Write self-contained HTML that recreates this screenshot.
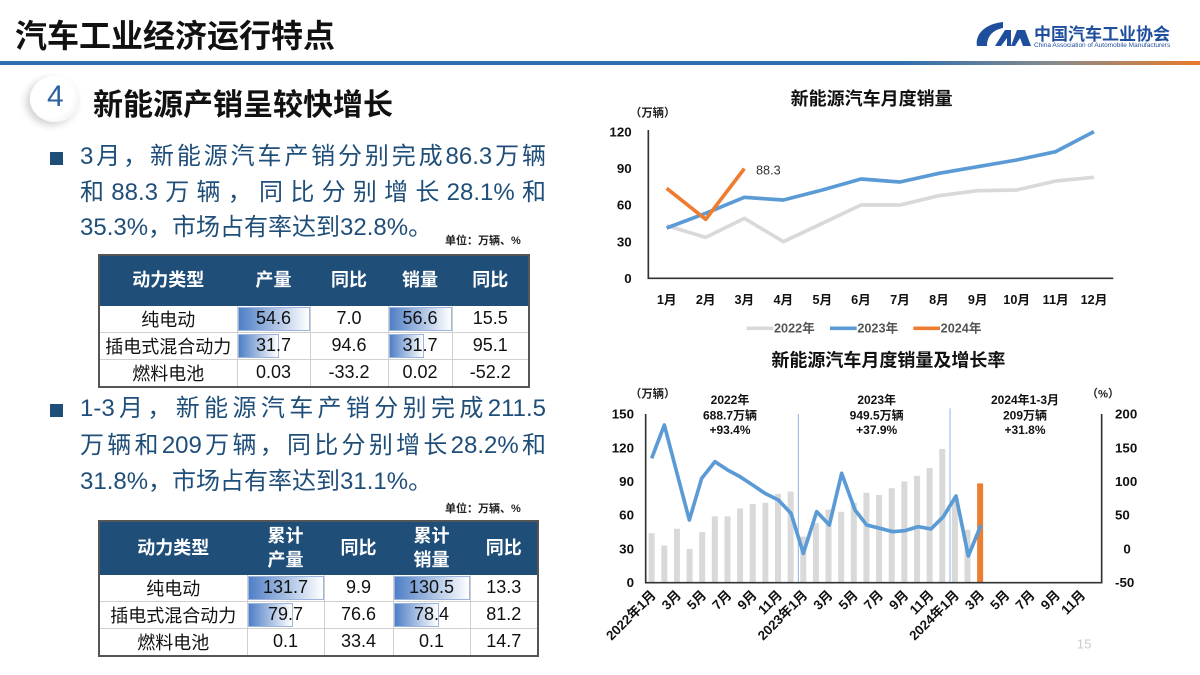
<!DOCTYPE html>
<html><head><meta charset="utf-8">
<style>
*{margin:0;padding:0;box-sizing:border-box}
body{width:1200px;height:675px;background:#fff;position:relative;overflow:hidden;font-family:"Liberation Sans","Noto Sans CJK SC",sans-serif}
.abs{position:absolute;white-space:nowrap}
.t{color:#1f4e79;font-size:24px;line-height:36px;width:466px;text-align:justify;text-align-last:justify}
.sq{position:absolute;width:13px;height:13px;background:#1f4e79}
table{position:absolute;border-collapse:collapse;font-size:18px;color:#111}
td,th{border:1px solid #d0d0d0;text-align:center;padding:0;position:relative}
th{background:#1f4e79;color:#fff;font-weight:bold;font-size:18px;border-color:#1f4e79;line-height:24px}
table{border:2px solid #555}
.bar{position:absolute;left:0;top:1px;bottom:1px;background:linear-gradient(90deg,#4f7fc6,#fff);border:1px solid #9db5dc}
td span{position:relative}
.unit{font-size:11px;font-weight:bold;color:#222}
</style></head><body>
<div class="abs" style="left:15px;top:11px;font-size:32px;font-weight:bold;color:#111">汽车工业经济运行特点</div>
<div class="abs" style="left:0;top:61px;width:1200px;height:4px;background:linear-gradient(90deg,#2e6fb0 0%,#2e6fb0 75%,#8a8a8a 88%,#e87a2a 100%)"></div>
<svg class="abs" style="left:973px;top:20px" width="66" height="32" viewBox="0 0 66 32"><path d="M30 2 C10 4 2 16 4 26 L14 26 C14 16 20 10 30 8 Z" fill="#1f4e9c"/><path d="M22 26 L32 10 L38 10 L38 26 L44 10 L52 10 L58 26 L50 26 L47 18 L42 26 L34 26 L34 18 L28 26Z" fill="#1f4e9c"/></svg>
<div class="abs" style="left:1034px;top:20px;font-size:17px;font-weight:bold;color:#1f4e9c">中国汽车工业协会</div>
<div class="abs" style="left:1034px;top:42px;font-size:6.5px;color:#1f4e9c">China Association of Automobile Manufacturers</div>

<div class="abs" style="left:30px;top:76px;width:50px;height:46px;border-radius:50%;background:radial-gradient(circle at 40% 40%,#fff 55%,#e4e7ee);box-shadow:-4px 3px 8px rgba(0,0,0,.18);"></div>
<div class="abs" style="left:47px;top:80px;font-size:30px;color:#2e5fa0">4</div>
<div class="abs" style="left:93px;top:80px;font-size:30px;font-weight:bold;color:#111">新能源产销呈较快增长</div>

<div class="sq" style="left:50px;top:152px"></div>
<div class="abs t" style="left:80px;top:139px">3月，新能源汽车产销分别完成86.3万辆</div>
<div class="abs t" style="left:80px;top:175px">和88.3万辆，同比分别增长28.1%和</div>
<div class="abs" style="left:80px;top:210px;color:#1f4e79;font-size:24px;line-height:36px">35.3%，市场占有率达到32.8%。</div>
<div class="abs unit" style="left:445px;top:232px">单位：万辆、%</div>

<table style="left:98px;top:254px;width:432px">
<tr style="height:50px"><th style="width:138px">动力类型</th><th style="width:73px">产量</th><th style="width:78px">同比</th><th style="width:64px">销量</th><th>同比</th></tr>
<tr style="height:25px"><td>纯电动</td><td><div class="bar" style="width:100%"></div><span>54.6</span></td><td>7.0</td><td><div class="bar" style="width:100%"></div><span>56.6</span></td><td>15.5</td></tr>
<tr style="height:25px"><td>插电式混合动力</td><td><div class="bar" style="width:58%"></div><span>31.7</span></td><td>94.6</td><td><div class="bar" style="width:56%"></div><span>31.7</span></td><td>95.1</td></tr>
<tr style="height:25px"><td>燃料电池</td><td>0.03</td><td>-33.2</td><td>0.02</td><td>-52.2</td></tr>
</table>

<div class="sq" style="left:50px;top:404px"></div>
<div class="abs t" style="left:80px;top:391px">1-3月，新能源汽车产销分别完成211.5</div>
<div class="abs t" style="left:80px;top:428px">万辆和209万辆，同比分别增长28.2%和</div>
<div class="abs" style="left:80px;top:464px;color:#1f4e79;font-size:24px;line-height:36px">31.8%，市场占有率达到31.1%。</div>
<div class="abs unit" style="left:445px;top:500px">单位：万辆、%</div>

<table style="left:98px;top:520px;width:441px">
<tr style="height:53px"><th style="width:148px">动力类型</th><th style="width:77px">累计<br>产量</th><th style="width:69px">同比</th><th style="width:77px">累计<br>销量</th><th>同比</th></tr>
<tr style="height:26px"><td>纯电动</td><td><div class="bar" style="width:100%"></div><span>131.7</span></td><td>9.9</td><td><div class="bar" style="width:100%"></div><span>130.5</span></td><td>13.3</td></tr>
<tr style="height:27px"><td>插电式混合动力</td><td><div class="bar" style="width:60%"></div><span>79.7</span></td><td>76.6</td><td><div class="bar" style="width:60%"></div><span>78.4</span></td><td>81.2</td></tr>
<tr style="height:26px"><td>燃料电池</td><td>0.1</td><td>33.4</td><td>0.1</td><td>14.7</td></tr>
</table>

<!-- Chart 1 -->
<svg class="abs" style="left:600px;top:80px" width="520" height="260" viewBox="0 0 1560 780" font-family="Liberation Sans,Noto Sans CJK SC,sans-serif" font-weight="bold">
<text x="815" y="75" font-size="54" text-anchor="middle" fill="#111">新能源汽车月度销量</text>
<text x="90" y="110" font-size="34" fill="#222">（万辆）</text>
<g font-size="40" fill="#111" text-anchor="end">
<text x="95" y="169">120</text><text x="95" y="279">90</text><text x="95" y="389">60</text><text x="95" y="499">30</text><text x="95" y="609">0</text></g>
<path d="M145 150 V595 H1540" stroke="#333" stroke-width="5" fill="none"/>
<g font-size="38" fill="#111" text-anchor="middle">
<text x="200" y="672">1月</text><text x="317" y="672">2月</text><text x="433" y="672">3月</text><text x="550" y="672">4月</text><text x="667" y="672">5月</text><text x="783" y="672">6月</text><text x="900" y="672">7月</text><text x="1017" y="672">8月</text><text x="1133" y="672">9月</text><text x="1250" y="672">10月</text><text x="1367" y="672">11月</text><text x="1482" y="672">12月</text></g>
<polyline fill="none" stroke="#d9d9d9" stroke-width="11" stroke-linejoin="round" points="200,437 317,472 433,415 550,485 667,430 783,375 900,375 1017,347 1133,332 1250,330 1367,303 1482,292"/>
<polyline fill="none" stroke="#5b9bd5" stroke-width="11" stroke-linejoin="round" points="200,444 317,400 433,352 550,360 667,330 783,297 900,306 1017,280 1133,260 1250,240 1367,215 1482,155"/>
<polyline fill="none" stroke="#ed7d31" stroke-width="11" stroke-linejoin="round" points="200,325 317,418 433,266"/>
<text x="468" y="284" font-size="38" font-weight="normal" fill="#333">88.3</text>
<g font-size="38" fill="#555">
<line x1="440" y1="745" x2="520" y2="745" stroke="#d9d9d9" stroke-width="11"/><text x="522" y="758">2022年</text>
<line x1="690" y1="745" x2="770" y2="745" stroke="#5b9bd5" stroke-width="11"/><text x="772" y="758">2023年</text>
<line x1="940" y1="745" x2="1020" y2="745" stroke="#ed7d31" stroke-width="11"/><text x="1022" y="758">2024年</text></g>
</svg>

<!-- Chart 2 -->
<svg class="abs" style="left:600px;top:340px" width="600" height="335" viewBox="0 0 1800 1005" font-family="Liberation Sans,Noto Sans CJK SC,sans-serif" font-weight="bold">
<text x="865" y="80" font-size="54" text-anchor="middle" fill="#111">新能源汽车月度销量及增长率</text>
<text x="90" y="172" font-size="34" fill="#222">（万辆）</text>
<text x="1460" y="172" font-size="34" fill="#222">（%）</text>
<g font-size="40" fill="#111" text-anchor="end">
<text x="102" y="236">150</text><text x="102" y="337">120</text><text x="102" y="438">90</text><text x="102" y="539">60</text><text x="102" y="640">30</text><text x="102" y="741">0</text></g>
<g font-size="40" fill="#111">
<text x="1545" y="236">200</text><text x="1545" y="337">150</text><text x="1545" y="438">100</text><text x="1545" y="539">50</text><text x="1570" y="640">0</text><text x="1545" y="741">-50</text></g>
<g id="bars"></g>
<line x1="595" y1="222" x2="595" y2="728" stroke="#8db4e2" stroke-width="3"/>
<line x1="1050" y1="205" x2="1050" y2="728" stroke="#8db4e2" stroke-width="3"/>
<path d="M137 222 V728 H1505 V222" stroke="#333" stroke-width="5" fill="none"/>
<g font-size="36" fill="#111" text-anchor="middle">
<text x="390" y="192">2022年</text><text x="390" y="238">688.7万辆</text><text x="390" y="282">+93.4%</text>
<text x="830" y="192">2023年</text><text x="830" y="238">949.5万辆</text><text x="830" y="282">+37.9%</text>
<text x="1275" y="192">2024年1-3月</text><text x="1275" y="238">209万辆</text><text x="1275" y="282">+31.8%</text></g>
<polyline fill="none" stroke="#5b9bd5" stroke-width="11" stroke-linejoin="round" points="155,355 193,255 231,400 268,540 305,415 345,365 383,390 420,410 458,435 495,460 535,480 573,520 610,640 650,515 688,555 725,400 765,510 800,555 840,565 878,575 915,572 955,560 993,567 1030,530 1068,468 1105,648 1143,555"/>
<g id="xl" font-size="40" fill="#111" text-anchor="end"></g>
<text x="1430" y="925" font-size="40" fill="#ccc" font-weight="normal">15</text>
</svg>
<script>
var v=[44,33,48,30,45,59,59,66,70,71,79,81,41,53,65,63,71,80,78,84,90,95,102,119,72,47,88.3];
var g=document.getElementById('bars'),s='';
for(var i=0;i<v.length;i++){var x=155+i*37.9,h=v[i]/150*506;
s+='<rect x="'+(x-9)+'" y="'+(728-h)+'" width="18" height="'+h+'" fill="'+(i==26?'#ed7d31':'#d9d9d9')+'"/>';}
g.innerHTML=s;
var L=['2022年1月','3月','5月','7月','9月','11月','2023年1月','3月','5月','7月','9月','11月','2024年1月','3月','5月','7月','9月','11月'],t='';
for(var j=0;j<L.length;j++){var x=155+j*2*37.9+15;t+='<text transform="translate('+x+',768) rotate(-45)">'+L[j]+'</text>';}
document.getElementById('xl').innerHTML=t;
</script>
</body></html>
